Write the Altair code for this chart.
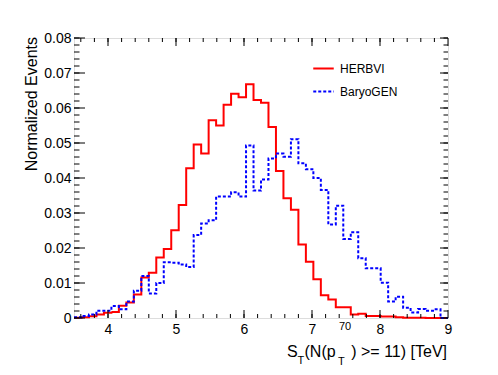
import altair as alt
import pandas as pd

# ---------------- data ----------------
x_min, x_max, n_bins = 3.5, 9.0, 50
series_names = ["HERBVI", "BaryoGEN"]
series_colors = ["#ff0000", "#0000ff"]

herbvi = [0.0001, 0.0002, 0.0005, 0.0010, 0.0015, 0.0017, 0.0035, 0.0044, 0.0067, 0.0116,
          0.0129, 0.0173, 0.0197, 0.0251, 0.0323, 0.0428, 0.0496, 0.0470, 0.0565, 0.0550,
          0.0609, 0.0641, 0.0631, 0.0668, 0.0623, 0.0615, 0.0546, 0.0420, 0.0342, 0.0309,
          0.0210, 0.0161, 0.0111, 0.0065, 0.0053, 0.0031, 0.0031, 0.0010, 0.0012, 0.0006,
          0.0006, 0.0004, 0.0004, 0.0002, 0.0001, 0.0001, 0.0001, 0.0000, 0.0000, 0.0000]

baryogen = [0.0002, 0.0006, 0.0010, 0.0021, 0.0021, 0.0034, 0.0025, 0.0047, 0.0078, 0.0120,
            0.0070, 0.0100, 0.0159, 0.0158, 0.0153, 0.0146, 0.0237, 0.0270, 0.0279, 0.0347,
            0.0347, 0.0359, 0.0347, 0.0493, 0.0364, 0.0396, 0.0456, 0.0470, 0.0461, 0.0511,
            0.0442, 0.0425, 0.0400, 0.0366, 0.0267, 0.0321, 0.0226, 0.0245, 0.0171, 0.0142,
            0.0142, 0.0101, 0.0047, 0.0061, 0.0029, 0.0016, 0.0026, 0.0021, 0.0025, 0.0000]

x_major = [4, 5, 6, 7, 8, 9]
x_minor = [round(3.6 + 0.2 * i, 2) for i in range(27)]
y_major = [round(0.01 * i, 2) for i in range(9)]
y_minor = [round(0.002 * i, 3) for i in range(41)]

# ---------------- build tables ----------------
bw = (x_max - x_min) / n_bins
edges = [x_min + bw * i for i in range(n_bins + 1)]
rows = []
for name, vals in zip(series_names, [herbvi, baryogen]):
    for e, v in zip(edges, vals + [vals[-1]]):
        rows.append({"x": e, "y": v, "sample": name})
hist = pd.DataFrame(rows)

W, H = 374, 280
FONT = "Liberation Sans"

xs = alt.Scale(domain=[x_min, x_max], nice=False, zero=False)
ys = alt.Scale(domain=[0, 0.08], nice=False, zero=False)

x_axis = alt.Axis(values=x_major, ticks=False, domain=False, grid=False,
                  labelFontSize=14, labelPadding=4, labelFlush=False,
                  labelOverlap=False, labelColor="black", title=None, format="d")
y_axis = alt.Axis(values=y_major, ticks=False, domain=False, grid=False,
                  labelFontSize=14, labelPadding=3, labelColor="black",
                  labelOverlap=False, labelFlush=False,
                  labelExpr="datum.value == 0 ? '0' : format(datum.value, '.2f')",
                  title=None)

leg = dict(title=None, orient="none", legendX=238, legendY=19,
           symbolType="stroke", symbolSize=420, symbolStrokeWidth=2,
           labelFontSize=12, labelFont=FONT, labelColor="black",
           labelOffset=5, rowPadding=5, padding=0)

lines = alt.Chart(hist).mark_line(interpolate="step-after", strokeWidth=2).encode(
    x=alt.X("x:Q", scale=xs, axis=x_axis),
    y=alt.Y("y:Q", scale=ys, axis=y_axis),
    color=alt.Color("sample:N",
                    scale=alt.Scale(domain=series_names, range=series_colors),
                    legend=alt.Legend(**leg)),
    strokeDash=alt.StrokeDash("sample:N",
                              scale=alt.Scale(domain=series_names, range=[[1, 0], [3, 2]]),
                              legend=alt.Legend(**leg)),
)

def xticks(vals, length, top):
    d = pd.DataFrame({"v": vals})
    y0 = 0 if top else H
    y1 = length if top else H - length
    return alt.Chart(d).mark_rule(color="black", strokeWidth=1).encode(
        x=alt.X("v:Q", scale=xs, axis=x_axis), y=alt.value(y0), y2=alt.value(y1))

def yticks(vals, length, right):
    d = pd.DataFrame({"v": vals})
    x0 = W if right else 0
    x1 = W - length if right else length
    return alt.Chart(d).mark_rule(color="black", strokeWidth=1).encode(
        y=alt.Y("v:Q", scale=ys, axis=y_axis), x=alt.value(x0), x2=alt.value(x1))

ticks = [
    xticks(x_minor, 4, False), xticks(x_major, 8, False),
    xticks(x_minor, 4, True), xticks(x_major, 8, True),
    yticks(y_minor, 5.5, False), yticks(y_major, 11, False),
    yticks(y_minor, 4.5, True), yticks(y_major, 8, True),
]

# ---------------- axis titles ----------------
def txt(s, x, y, size, align="left", angle=0):
    kw = dict(text=s, fontSize=size, font=FONT, color="black", align=align,
              baseline="alphabetic")
    if angle:
        kw["angle"] = angle
    return alt.Chart(pd.DataFrame({"a": [0]})).mark_text(**kw).encode(
        x=alt.value(x), y=alt.value(y))

title_parts = [
    txt("S", 213, 319, 16),
    txt("T", 223.5, 326, 11),
    txt("(N(p", 230.5, 319, 16),
    txt("T", 264, 327, 11),
    txt("70", 265, 292, 11),
    txt(") >= 11) [TeV]", 373, 319, 16, align="right"),
    txt("Normalized Events", -37, -1, 16, align="right", angle=270),
]

chart = alt.layer(lines, *ticks, *title_parts).properties(
    width=W, height=H,
    autosize=alt.AutoSizeParams(type="none"),
    padding={"left": 66, "top": 30, "right": 42, "bottom": 49},
).configure_view(stroke="black", strokeWidth=1).configure(font=FONT)

chart.save("out.html", embed_options={"renderer": "svg", "actions": False})
